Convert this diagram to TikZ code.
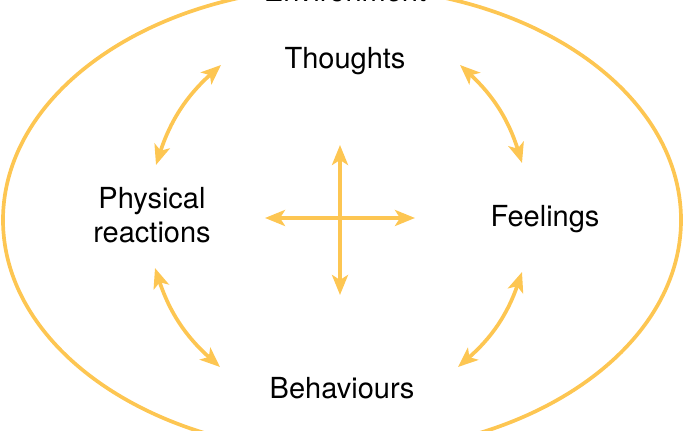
\documentclass[tikz,border=0pt]{standalone}
\usepackage{fontspec}
\setmainfont{TeX Gyre Heros}
\usepackage{xcolor}
\usetikzlibrary{arrows.meta}
\definecolor{warmyellow}{RGB}{253,198,82}

\begin{document}
\begin{tikzpicture}[x=0.02cm, y=0.02cm, >={Stealth[length=0.4cm, width=0.32cm, inset=0.1cm]},
    loop/.style={<->, warmyellow, line width=2.1pt, bend left=15},
    label/.style={font=\fontsize{16.5}{19.4}\selectfont, text=black, align=center}]
    \useasboundingbox (0,0) rectangle (685,431);
    \draw[warmyellow, line width=2.1pt] (342,211) ellipse [x radius=339, y radius=233];

    \node[label, anchor=base] (env) at (345,429) {Environment};
    \node[label, anchor=base] (thoughts) at (345,362) {Thoughts};
    \node[label] (physical) at (152,216) {Physical\\reactions};
    \node[label, anchor=base] (feelings) at (545,204) {Feelings};
    \node[label, anchor=base] (behaviours) at (342,32) {Behaviours};

    \coordinate (tl1) at (156,266);  \coordinate (tl2) at (221,366);
    \coordinate (tr1) at (460,366);  \coordinate (tr2) at (522,268);
    \coordinate (br1) at (522,159);  \coordinate (br2) at (458,64);
    \coordinate (bl1) at (220,64);   \coordinate (bl2) at (155,163);
    \draw[loop] (tl1) to (tl2);
    \draw[loop] (tr1) to (tr2);
    \draw[loop] (br1) to (br2);
    \draw[loop] (bl1) to (bl2);

    % cross in the middle
    \coordinate (up) at (340,286);    \coordinate (down) at (340,136);
    \coordinate (left) at (265,213);  \coordinate (right) at (415,213);
    \draw[<->, warmyellow, line width=2.1pt] (up) -- (down);
    \draw[<->, warmyellow, line width=2.1pt] (left) -- (right);
\end{tikzpicture}
\end{document}
